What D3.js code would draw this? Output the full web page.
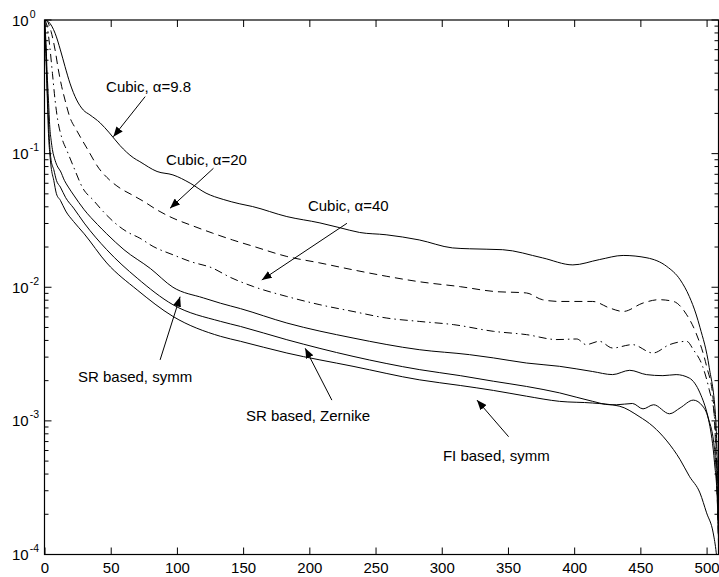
<!DOCTYPE html>
<html>
<head>
<meta charset="utf-8">
<script src="https://cdn.jsdelivr.net/npm/d3@7"></script>
<style>
body { margin: 0; background: #fff; }
text { font-family: "Liberation Sans", Arial, Helvetica, sans-serif; fill: #000; }
</style>
</head>
<body>
<div class="canvas"></div>
<script>
// data: [x, value]
var cubic98 = [[0,1.0],[3,0.97],[8,0.796],[12,0.597],[15.5,0.448],[19.2,0.337],[24.3,0.252],[29.3,0.212],
    [34.3,0.195],[42,0.170],[49,0.143],[57,0.115],[67,0.0933],[72,0.0871],[85,0.0735],[97,0.0693],
    [110,0.0601],[122,0.0506],[135,0.0454],[147,0.0422],[157,0.0402],[183,0.0338],[208,0.0303],
    [223,0.0279],[238,0.0257],[258,0.0247],[283,0.0226],[308,0.0197],[321,0.0194],[346,0.0191],
    [376,0.0166],[399,0.0147],[419,0.0161],[437,0.0173],[455,0.0166],[470,0.0143],[480,0.0114],
    [487,0.00851],[492,0.00631],[495,0.00501],[502,0.00251],[507,0.001],[510,0.00005]]

var cubic20 = [[0,1.0],[2,0.98],[5,0.818],[8,0.597],[10.5,0.423],[13,0.317],[15.5,0.252],[19,0.189],
    [24,0.151],[32,0.110],[41,0.0778],[49,0.0637],[57,0.0552],[66,0.0492],[75,0.0438],[85,0.0379],
    [97,0.0329],[110,0.0293],[127,0.0254],[142,0.0226],[158,0.0202],[183,0.0170],[208,0.0152],
    [233,0.0135],[258,0.0121],[283,0.0110],[314,0.0101],[339,0.00931],[364,0.00906],[376,0.00807],
    [389,0.00783],[414,0.00783],[427,0.00698],[437,0.00659],[452,0.00762],[464,0.00807],[475,0.00783],
    [485,0.00622],[492,0.00455],[500,0.00256],[505,0.00144],[510,0.00005]]

var cubic40 = [[0,1.0],[2,0.891],[4,0.631],[6,0.398],[8,0.251],[10,0.178],[13,0.132],[17,0.105],
    [22,0.0794],[29,0.0550],[37,0.0447],[42,0.0391],[52,0.0310],[62,0.0261],[72,0.0233],[82,0.0202],
    [97,0.0175],[110,0.0156],[127,0.0139],[140,0.0119],[158,0.0101],[183,0.00853],[208,0.00740],
    [233,0.00659],[258,0.00589],[283,0.00555],[309,0.00525],[339,0.00468],[364,0.00442],[387,0.00406],
    [402,0.00410],[409,0.00372],[419,0.00394],[429,0.00351],[444,0.00372],[459.5,0.00322],[472,0.00372],
    [485,0.00394],[490,0.00341],[497,0.00256],[502,0.00171],[506,0.00108],[510,0.00005]]

var srSymm = [[0,1.0],[1,0.708],[2,0.398],[3,0.251],[4,0.158],[5,0.126],[6,0.107],[8,0.0891],
    [10,0.0794],[12,0.0741],[15,0.0631],[18,0.0562],[22,0.0490],[30,0.0380],[40,0.0295],[47,0.0251],
    [60,0.0191],[80,0.0138],[97,0.0100],[120,0.00832],[133,0.00759],[148,0.00692],[183,0.00540],
    [233,0.00417],[283,0.00341],[321,0.00313],[339,0.00296],[364,0.00271],[389,0.00256],[414,0.00234],
    [429,0.00222],[442,0.00239],[454.5,0.00222],[467,0.00218],[477,0.00222],[487,0.00209],[495,0.00162],
    [501,0.00108],[506,0.00061],[508.3,0.00025],[510,0.00005]]

var srZernike = [[0,1.0],[1,0.631],[2,0.316],[3,0.178],[4,0.112],[5,0.0891],[7,0.0759],[9,0.0631],
    [12,0.0562],[16,0.0468],[22,0.0391],[30,0.0302],[47,0.0191],[70,0.0117],[97,0.00740],[133,0.00555],
    [148,0.00509],[183,0.00405],[233,0.00304],[283,0.00242],[314,0.00218],[339,0.00198],[364,0.00181],
    [389,0.00162],[414,0.00140],[427,0.00132],[432,0.00132],[444,0.00135],[452,0.00123],[460,0.00132],
    [472,0.00113],[480,0.00125],[490,0.00143],[497,0.00129],[502,0.000966],[506,0.000485],
    [508.3,0.000230],[510,0.00005]]

var fiSymm = [[0,1.0],[1,0.562],[2,0.282],[3,0.141],[4,0.1],[5,0.0794],[7,0.0631],[9,0.0501],
    [12,0.0447],[16,0.0372],[22,0.0310],[30,0.0251],[47,0.0152],[70,0.00955],[97,0.00605],
    [133,0.00429],[148,0.00394],[183,0.00322],[233,0.00256],[283,0.00203],[314,0.00184],[339,0.00169],
    [364,0.00153],[389,0.00140],[414,0.00136],[434,0.00129],[449,0.00108],[459.5,0.000910],
    [470,0.000708],[480,0.000513],[487,0.000385],[495,0.000289],[500,0.000205],[505,0.000145],
    [507.3,0.000103],[510,0.00005]]

var xTicks = [0, 50, 100, 150, 200, 250, 300, 350, 400, 450, 500]
var yDecades = [1, 0.1, 0.01, 0.001, 0.0001]

// annotation text and arrow (tail -> tip), in data coords
var labels = ["Cubic, \u03b1=9.8", "Cubic, \u03b1=20", "Cubic, \u03b1=40",
              "SR based, symm", "SR based, Zernike", "FI based, symm"]
var labelAt = [[46.5,0.287],[91.8,0.0815],[198.9,0.0372],[25.3,0.00194],[152.1,0.000998],[300.9,0.000504]]
var arrowTail = [[76,0.267],[127.6,0.0777],[228.4,0.0301],[87.3,0.00286],[217,0.00143],[350.5,0.000761]]
var arrowTip = [[52,0.1338],[94.8,0.039],[164.1,0.01133],[102.4,0.0085],[196.9,0.00349],[326.6,0.00143]]

var width = 719, height = 577
var margin = {left: 44.5, right: 0.5, top: 20, bottom: 22.5}

var svg = d3.select(".canvas").append("svg").attr("width", width).attr("height", height)

var x = d3.scaleLinear().domain([0, 509]).range([margin.left, width - margin.right])
var y = d3.scaleLog().domain([1e-4, 1]).range([height - margin.bottom, margin.top])

svg.append("defs").append("clipPath").attr("id", "plotclip")
    .append("rect")
    .attr("x", x(0)).attr("y", y(1))
    .attr("width", x(509) - x(0)).attr("height", y(1e-4) - y(1))

svg.append("defs").append("marker")
    .attr("id", "arrowhead")
    .attr("viewBox", "0 0 10 8")
    .attr("refX", 10).attr("refY", 4)
    .attr("markerWidth", 10).attr("markerHeight", 8)
    .attr("markerUnits", "userSpaceOnUse")
    .attr("orient", "auto")
    .append("path")
    .attr("d", "M0,0 L10,4 L0,8 Z")
    .attr("fill", "black")

// curves
var series = [
    {data: cubic98, dash: null},
    {data: cubic20, dash: "8,5"},
    {data: cubic40, dash: "8,4,1.5,4"},
    {data: srSymm, dash: null},
    {data: srZernike, dash: null},
    {data: fiSymm, dash: null}
]

var line = d3.line()
    .x(d => x(d[0]))
    .y(d => y(d[1]))
    .curve(d3.curveMonotoneX)

svg.append("g").attr("clip-path", "url(#plotclip)")
    .selectAll("path")
    .data(series)
    .join("path")
    .attr("d", d => line(d.data))
    .attr("fill", "none")
    .attr("stroke", "black")
    .attr("stroke-width", 1)
    .attr("stroke-dasharray", d => d.dash)

// box
svg.append("rect")
    .attr("x", x(0)).attr("y", y(1))
    .attr("width", x(509) - x(0)).attr("height", y(1e-4) - y(1))
    .attr("fill", "none")
    .attr("stroke", "black")
    .attr("stroke-width", 1.2)

// x ticks, inward, bottom and top
var xAxis = d3.axisBottom(x).tickValues(xTicks).tickSize(-7).tickPadding(8).tickSizeOuter(0)
var gx = svg.append("g").attr("transform", "translate(0," + y(1e-4) + ")").call(xAxis)
gx.select(".domain").remove()
gx.selectAll("text").style("font-size", "15px").style("font-family", "Liberation Sans, Arial, sans-serif")

var gxTop = svg.append("g").attr("transform", "translate(0," + y(1) + ")")
    .call(d3.axisTop(x).tickValues(xTicks).tickSize(-7).tickFormat(""))
gxTop.select(".domain").remove()

// y ticks, major and minor, left and right
var yAll = y.ticks()
function isMajor(v) { return Math.abs(Math.log10(v) - Math.round(Math.log10(v))) < 1e-9 }

svg.append("g").selectAll("line.left")
    .data(yAll).join("line")
    .attr("x1", x(0)).attr("x2", d => x(0) + (isMajor(d) ? 7 : 4))
    .attr("y1", d => y(d)).attr("y2", d => y(d))
    .attr("stroke", "black").attr("stroke-width", 1)

svg.append("g").selectAll("line.right")
    .data(yAll).join("line")
    .attr("x1", x(509)).attr("x2", d => x(509) - (isMajor(d) ? 7 : 4))
    .attr("y1", d => y(d)).attr("y2", d => y(d))
    .attr("stroke", "black").attr("stroke-width", 1)

// y labels 10^n
var ylab = svg.append("g").selectAll("text")
    .data(yDecades).join("text")
    .attr("x", 12)
    .attr("y", d => y(d) + 5.5)
    .style("font-size", "15px")
ylab.append("tspan").text("10")
ylab.append("tspan")
    .attr("dx", 1).attr("dy", -8)
    .style("font-size", "10.5px")
    .text(d => String(Math.round(Math.log10(d))))

// annotations
var ann = svg.append("g")
ann.selectAll("text")
    .data(labels).join("text")
    .attr("x", (d, i) => x(labelAt[i][0]))
    .attr("y", (d, i) => y(labelAt[i][1]))
    .style("font-size", "15px")
    .text(d => d)

ann.selectAll("line")
    .data(labels).join("line")
    .attr("x1", (d, i) => x(arrowTail[i][0]))
    .attr("y1", (d, i) => y(arrowTail[i][1]))
    .attr("x2", (d, i) => x(arrowTip[i][0]))
    .attr("y2", (d, i) => y(arrowTip[i][1]))
    .attr("stroke", "black")
    .attr("stroke-width", 1)
    .attr("marker-end", "url(#arrowhead)")
</script>
</body>
</html>
